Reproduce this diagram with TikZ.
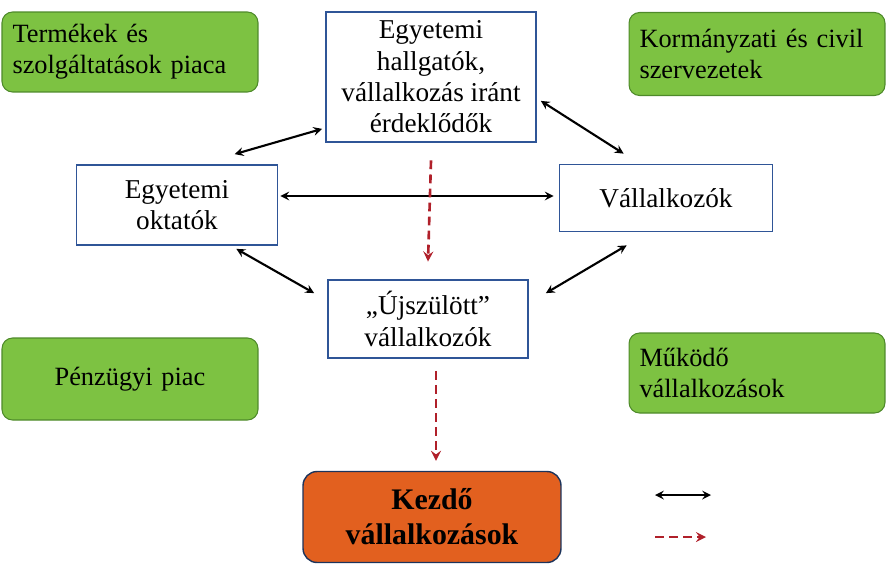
\documentclass[tikz,border=0pt]{standalone}
\usepackage{fontspec}
\setmainfont{Liberation Serif}
\definecolor{boxblue}{HTML}{2F5597}
\definecolor{leafgreen}{HTML}{7DC242}
\definecolor{leafedge}{HTML}{4E8A2A}
\definecolor{startorange}{HTML}{E2601F}
\definecolor{dashred}{HTML}{B0202A}
\tikzset{
  actor/.style={draw=boxblue,line width=1pt,fill=white,align=center,inner sep=1pt,font=\fontsize{15.5}{17.8}\selectfont},
  market/.style={draw=leafedge,line width=0.6pt,fill=leafgreen,rounded corners=6pt,align=left,
    font=\fontsize{15}{17.8}\selectfont,minimum width=5.12cm,text width=4.7cm},
  link/.style={<->,>=stealth,line width=1.2pt},
  flow/.style={->,>=stealth,dash pattern=on 5pt off 3pt,line width=1.5pt,dashred}
}
\begin{document}
\begin{tikzpicture}[x=0.02cm,y=-0.02cm]
  \useasboundingbox (0,0) rectangle (891,569);
  % environment
  \node[market,minimum height=1.6cm] (goods) at (130,52) {Termékek és\\szolgáltatások piaca};
  \node[market,minimum height=1.66cm] (gov) at (757,54) {Kormányzati és civil\\szervezetek};
  \node[market,minimum height=1.64cm,align=center,text width=4.8cm] (finance) at (130,379) {Pénzügyi piac};
  \node[market,minimum height=1.6cm] (working) at (757,373) {Működő\\vállalkozások};
  % actors
  \node[actor,minimum width=4.2cm,minimum height=2.6cm] (students) at (431,77) {Egyetemi\\hallgatók,\\vállalkozás iránt\\érdeklődők};
  \node[actor,minimum width=4.02cm,minimum height=1.6cm] (teachers) at (177,205) {Egyetemi\\oktatók};
  \node[actor,minimum width=4.26cm,minimum height=1.34cm] (entrepreneurs) at (666,198) {Vállalkozók};
  \node[actor,minimum width=4cm,minimum height=1.56cm] (newborn) at (428,319) {„Újszülött”\\vállalkozók};
  \node[draw=boxblue!60!black,line width=0.8pt,fill=startorange,rounded corners=8pt,align=center,
    minimum width=5.16cm,minimum height=1.82cm,font=\fontsize{17}{20}\selectfont\bfseries] (startups) at (432,517) {Kezdő\\vállalkozások};
  % links
  \draw[link] ([shift={(-3,-14)}]students.south west) -- ([shift={(159,-10)}]teachers.north west);
  \draw[link] ([shift={(4,-42)}]students.south east) -- ([shift={(65,-10)}]entrepreneurs.north west);
  \draw[link] ([shift={(2,-9)}]teachers.east) -- ([shift={(-5,-2)}]entrepreneurs.west);
  \draw[link] ([shift={(-42,3)}]teachers.south east) -- ([shift={(-13,14)}]newborn.north west);
  \draw[link] ([shift={(17,14)}]newborn.north east) -- ([shift={(68,13)}]entrepreneurs.south west);
  \draw[flow] ([yshift=-10]students.south) -- ([yshift=10]newborn.north);
  \draw[flow] ([shift={(8,12)}]newborn.south) -- ([shift={(4,-10)}]startups.north);
  % legend
  \coordinate (la) at (655,495); \coordinate (lb) at (711,495);
  \coordinate (lc) at (655,537); \coordinate (ld) at (706,537);
  \draw[link] (la) -- (lb);
  \draw[flow] (lc) -- (ld);
\end{tikzpicture}
\end{document}
